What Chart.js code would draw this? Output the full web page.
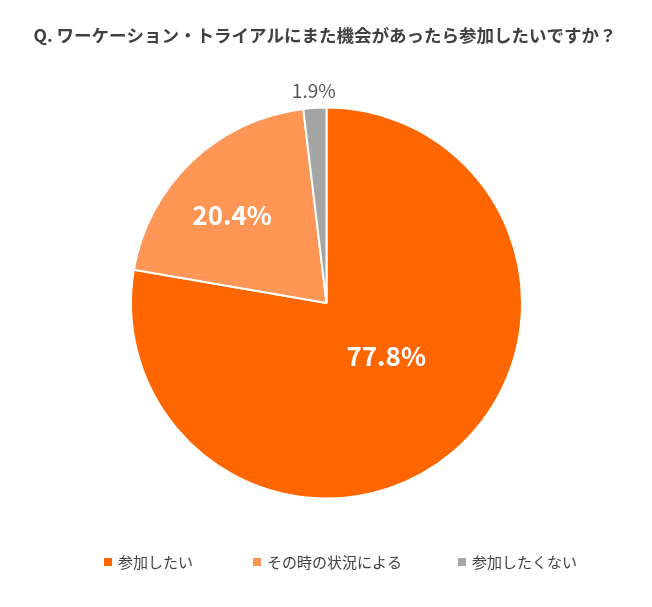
<!DOCTYPE html>
<html>
<head>
<meta charset="utf-8">
<script src="https://cdn.jsdelivr.net/npm/chart.js@4"></script>
<style>
  body { margin: 0; background: #fff; }
  #wrap { width: 652px; height: 607px; position: relative; }
</style>
</head>
<body>
<div id="wrap"><canvas id="myChart" width="652" height="607"></canvas></div>
<script>
const title = 'Q. ワーケーション・トライアルにまた機会があったら参加したいですか？';
const labels = ['参加したい', 'その時の状況による', '参加したくない'];
const values = [77.8, 20.4, 1.9];
const COLORS = ['#ff6600', '#ff9655', '#a5a5a5'];

const JP = '"Noto Sans CJK JP", "Noto Sans", sans-serif';

// where each percent label sits: fraction of the radius, and turn from the slice middle (deg)
const labelDist = [0.41, 0.66, 1.09];
const labelTurn = [-8, -3.5, 0];
const labelStyle = [
  {font: 'bold 26px ' + JP, color: '#ffffff'},
  {font: 'bold 26px ' + JP, color: '#ffffff'},
  {font: '19px ' + JP, color: '#595959'}
];
const legendX = [104, 253, 458];

const textPlugin = {
  id: 'texts',
  afterDraw(chart) {
    const c = chart.ctx;
    c.save();
    // title
    c.fillStyle = '#404040';
    c.font = 'bold 17.5px ' + JP;
    c.textAlign = 'center';
    c.textBaseline = 'middle';
    c.fillText(title, 325, 35);

    // percent labels
    const meta = chart.getDatasetMeta(0);
    meta.data.forEach((arc, i) => {
      const mid = (arc.startAngle + arc.endAngle) / 2 + labelTurn[i] * Math.PI / 180;
      const r = arc.outerRadius * labelDist[i];
      c.font = labelStyle[i].font;
      c.fillStyle = labelStyle[i].color;
      c.fillText(values[i].toFixed(1) + '%', arc.x + Math.cos(mid) * r, arc.y + Math.sin(mid) * r);
    });

    // legend
    c.textAlign = 'left';
    c.font = '15px ' + JP;
    labels.forEach((lab, i) => {
      c.fillStyle = COLORS[i];
      c.fillRect(legendX[i], 558, 8, 8);
      c.fillStyle = '#404040';
      c.fillText(lab, legendX[i] + 14, 562);
    });
    c.restore();
  }
};

new Chart(document.getElementById('myChart'), {
  type: 'pie',
  data: {
    labels: labels,
    datasets: [{
      data: values,
      backgroundColor: COLORS,
      borderColor: '#ffffff',
      borderWidth: 2
    }]
  },
  options: {
    responsive: false,
    animation: false,
    layout: {padding: {top: 106, bottom: 107, left: 130, right: 129}},
    plugins: {
      legend: {display: false},
      title: {display: false},
      tooltip: {enabled: false}
    }
  },
  plugins: [textPlugin]
});
</script>
</body>
</html>
